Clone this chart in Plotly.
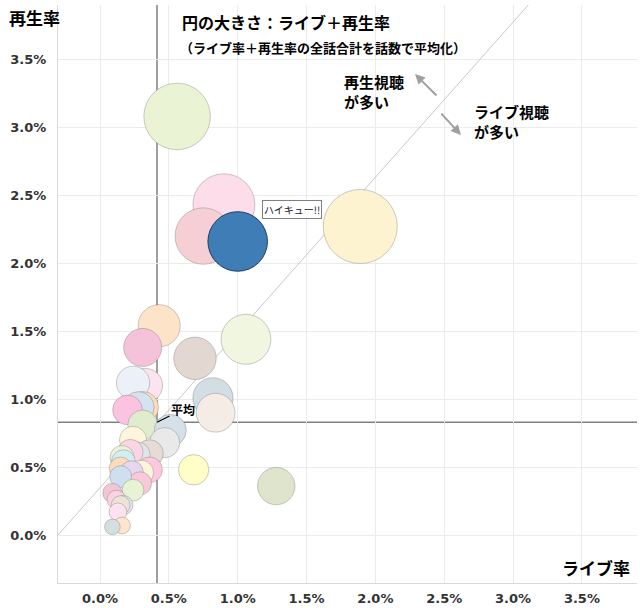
import plotly.graph_objects as go

# ---- data (percent units) ----
live_rate = [0.56, 0.90, 1.89, 0.75, 0.43, 1.06, 0.31, 0.69, 0.33, 0.24,
             0.82, 0.84, 0.31, 0.28, 0.20, 0.31, 0.51, 0.47, 0.24, 0.36,
             0.27, 0.22, 0.16, 0.17, 0.15, 0.36, 0.30, 0.68, 1.28, 0.23,
             0.29, 0.15, 0.24, 0.09, 0.12, 0.17, 0.15, 0.13, 0.16, 0.09]
play_rate = [3.08, 2.43, 2.27, 2.20, 1.54, 1.44, 1.38, 1.30, 1.10, 1.12,
             1.01, 0.90, 0.94, 0.94, 0.92, 0.81, 0.77, 0.68, 0.70, 0.60,
             0.59, 0.61, 0.57, 0.54, 0.49, 0.48, 0.46, 0.48, 0.36, 0.46,
             0.38, 0.43, 0.33, 0.31, 0.26, 0.22, 0.22, 0.17, 0.07, 0.06]
colors = ["#EAF4D4", "#FDDDEA", "#FDF3D0", "#F5CFD3", "#FDE3C8", "#F1F6E0",
          "#F4C3DA", "#E2D7D1", "#FCE4EE", "#EBF1F6", "#D3DDE4", "#F5ECE6",
          "#FDDDBD", "#D5E2EF", "#FBC3DF", "#E1ECCE", "#D5E0E9", "#E9E9E9",
          "#FDF6DC", "#E5DCD6", "#E0E5E8", "#FBD5E4", "#EBF3DA", "#D3EEF0",
          "#FDDCBE", "#FBC8E0", "#FDF5DA", "#FFFDC8", "#DFE4CD", "#E6D6EE",
          "#F9C9DA", "#D0DFEF", "#E7F3D4", "#F2C6D2", "#F9D3E2", "#E0E8EE",
          "#EFE3D9", "#FCE2EF", "#FDE4CC", "#D6DFDF"]

haikyu_name = "ハイキュー!!"
haikyu_live = [1.00]
haikyu_play = [2.16]

avg_live = 0.414
avg_play = 0.83

diag_x = [-0.305, 3.11]
diag_y = [0.0, 3.90]

x_ticks = [0.0, 0.5, 1.0, 1.5, 2.0, 2.5, 3.0, 3.5]
y_ticks = [0.0, 0.5, 1.0, 1.5, 2.0, 2.5, 3.0, 3.5]
x_tick_labels = [f"{v:.1f}%" for v in x_ticks]
y_tick_labels = [f"{v:.1f}%" for v in y_ticks]

# bubble diameter (px) grows with live+play rate
SIZE_BASE = 13.4
SIZE_SCALE = 14.6
def diam(xs, ys):
    return [SIZE_BASE + SIZE_SCALE * (a + b) for a, b in zip(xs, ys)]

JP = "Noto Sans CJK JP"
TICKFONT = dict(family="DejaVu Sans", size=13, color="#333333", weight="bold")

fig = go.Figure()

fig.add_trace(go.Scatter(x=diag_x, y=diag_y, mode="lines",
                         line=dict(color="#C8C8C8", width=1),
                         hoverinfo="skip", showlegend=False))

fig.add_trace(go.Scatter(
    x=live_rate, y=play_rate, mode="markers",
    marker=dict(size=diam(live_rate, play_rate), sizemode="diameter", sizeref=1,
                color=colors, opacity=1,
                line=dict(color="rgba(110,110,110,0.35)", width=1)),
    showlegend=False))

fig.add_trace(go.Scatter(
    x=haikyu_live, y=haikyu_play, mode="markers", name=haikyu_name,
    marker=dict(size=diam(haikyu_live, haikyu_play), sizemode="diameter", sizeref=1,
                color="#3F7DB6", opacity=1, line=dict(color="#1F3F66", width=1)),
    showlegend=False))

# average lines
fig.add_shape(type="line", xref="x", yref="paper", x0=avg_live, x1=avg_live, y0=0, y1=1,
              line=dict(color="#808080", width=1.5), layer="below")
fig.add_shape(type="line", xref="paper", yref="y", x0=0, x1=1, y0=avg_play, y1=avg_play,
              line=dict(color="#808080", width=1.5), layer="below")

ann = []
ann.append(dict(xref="paper", yref="paper", x=0.211, y=0.971, xanchor="left", yanchor="middle",
                text="円の大きさ：ライブ＋再生率", showarrow=False,
                font=dict(family=JP, size=16, color="#000", weight="bold")))
ann.append(dict(xref="paper", yref="paper", x=0.207, y=0.927, xanchor="left", yanchor="middle",
                text="（ライブ率＋再生率の全話合計を話数で平均化）", showarrow=False,
                font=dict(family=JP, size=13, color="#000", weight="bold")))
ann.append(dict(xref="paper", yref="paper", x=-0.088, y=0.978, xanchor="left", yanchor="middle",
                text="再生率", showarrow=False,
                font=dict(family=JP, size=17, color="#000", weight="bold")))
ann.append(dict(xref="paper", yref="paper", x=0.992, y=0.026, xanchor="right", yanchor="middle",
                text="ライブ率", showarrow=False,
                font=dict(family=JP, size=17, color="#000", weight="bold")))
ann.append(dict(xref="paper", yref="paper", x=0.490, y=0.850, xanchor="left", yanchor="middle",
                text="再生視聴<br>が多い", showarrow=False, align="left",
                font=dict(family=JP, size=15, color="#000", weight="bold")))
ann.append(dict(xref="paper", yref="paper", x=0.715, y=0.799, xanchor="left", yanchor="middle",
                text="ライブ視聴<br>が多い", showarrow=False, align="left",
                font=dict(family=JP, size=15, color="#000", weight="bold")))
ann.append(dict(xref="paper", yref="paper", x=0.6166, y=0.8806, ax=23, ay=23,
                text="", showarrow=True, arrowhead=2, arrowsize=1, arrowwidth=2,
                arrowcolor="#A0A0A0"))
ann.append(dict(xref="paper", yref="paper", x=0.696, y=0.775, ax=-21, ay=-23,
                text="", showarrow=True, arrowhead=2, arrowsize=1, arrowwidth=2,
                arrowcolor="#A0A0A0"))
ann.append(dict(xref="x", yref="y", x=avg_live, y=avg_play, ax=26, ay=-13,
                text="平均", showarrow=True, arrowhead=0, arrowwidth=1.2,
                arrowcolor="#000", standoff=0,
                font=dict(family=JP, size=12, color="#000", weight="bold")))
ann.append(dict(xref="x", yref="y", x=haikyu_live[0], y=haikyu_play[0],
                xanchor="left", yanchor="middle", xshift=24, yshift=32,
                text=haikyu_name, showarrow=False, bgcolor="#FFFFFF",
                bordercolor="#808080", borderwidth=1, borderpad=1,
                font=dict(family=JP, size=10, color="#222")))

fig.update_layout(
    width=640, height=608,
    margin=dict(l=58, r=3, t=5, b=25),
    paper_bgcolor="white", plot_bgcolor="white",
    annotations=ann,
    xaxis=dict(range=[-0.305, 3.90], tickvals=x_ticks, ticktext=x_tick_labels,
               showgrid=True, gridcolor="#EBEBEB", gridwidth=1, zeroline=False,
               showline=True, linecolor="#D9D9D9", linewidth=1, automargin=False,
               tickfont=TICKFONT, ticks="", ticklabelstandoff=3),
    yaxis=dict(range=[-0.353, 3.90], tickvals=y_ticks, ticktext=y_tick_labels,
               showgrid=True, gridcolor="#EBEBEB", gridwidth=1, zeroline=False,
               showline=True, linecolor="#D9D9D9", linewidth=1, automargin=False,
               tickfont=TICKFONT, ticks="", ticklabelstandoff=8),
    hovermode="closest",
)

fig.write_html("out.html", config={"displayModeBar": False},
               post_script="document.body.style.margin='0';document.body.style.overflow='hidden';")
